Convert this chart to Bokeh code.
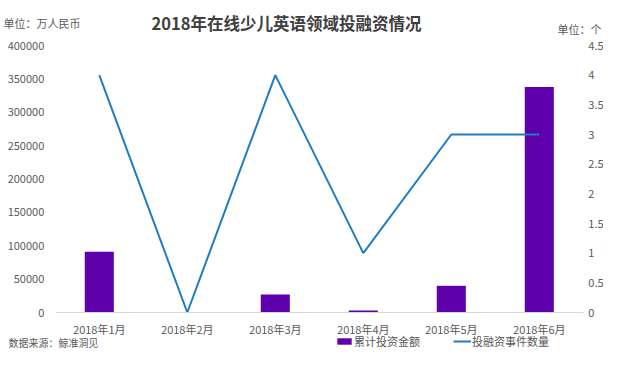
from bokeh.plotting import figure
from bokeh.models import (Range1d, LinearAxis, Label, Legend, LegendItem, Grid,
                          FixedTicker, NumeralTickFormatter)
from bokeh.embed import file_html
from bokeh.resources import INLINE

# ---- data ----
months = ["2018年1月", "2018年2月", "2018年3月", "2018年4月", "2018年5月", "2018年6月"]
amount = [91000, 0, 27000, 3000, 40000, 338000]      # 累计投资金额 (万人民币)
events = [4, 0, 4, 1, 3, 3]                          # 投融资事件数量 (个)
left_ticks = [0, 50000, 100000, 150000, 200000, 250000, 300000, 350000, 400000]
right_ticks = [0, 0.5, 1, 1.5, 2, 2.5, 3, 3.5, 4, 4.5]

FONT = "Noto Sans CJK SC"
TXT = "#595959"

# ---- layout (pixels) ----
W, H = 603, 351
cat_w, cat0_x = 88.0, 98.8          # category width and centre of first category
y0_px, ytop_px = 312.0, 45.0        # page y of value 0 and of the top tick
lmax, rmax = left_ticks[-1], right_ticks[-1]
lpp = lmax / (y0_px - ytop_px)
rpp = rmax / (y0_px - ytop_px)

xs = list(range(len(months)))

p = figure(width=W, height=H, output_backend="svg", toolbar_location=None,
           x_range=Range1d(-cat0_x / cat_w, (W - cat0_x) / cat_w),
           y_range=Range1d(-(H - y0_px) * lpp, y0_px * lpp),
           x_axis_location=None, y_axis_location=None,
           min_border=0, min_border_left=0, min_border_right=0,
           min_border_top=0, min_border_bottom=0)
p.outline_line_color = None
p.extra_y_ranges = {"cnt": Range1d(-(H - y0_px) * rpp, y0_px * rpp)}
for r in list(p.center):
    if isinstance(r, Grid):
        r.visible = False
p.grid.visible = False

bars = p.vbar(x=xs, top=amount, width=0.33, fill_color="#5E00AC", line_color=None)
line = p.line(x=xs, y=events, y_range_name="cnt", line_color="#1E7DC2", line_width=2)

def style(ax):
    ax.major_label_text_font = FONT
    ax.major_label_text_font_size = "11px"
    ax.major_label_text_color = TXT
    ax.major_tick_line_color = None
    ax.minor_tick_line_color = None
    ax.major_tick_out = 0
    ax.major_tick_in = 0

half = len(months) - 0.5
xa = LinearAxis(fixed_location=0, ticker=FixedTicker(ticks=xs),
                major_label_overrides={i: m for i, m in zip(xs, months)},
                bounds=(-0.5, half))
style(xa)
xa.axis_line_color = "#D9D9D9"
xa.major_label_standoff = 8
p.add_layout(xa, "below")

ya = LinearAxis(fixed_location=-0.5, ticker=FixedTicker(ticks=left_ticks),
                formatter=NumeralTickFormatter(format="0"), bounds=(0, lmax))
style(ya)
ya.axis_line_color = None
ya.major_label_standoff = 11
p.add_layout(ya, "left")

ra = LinearAxis(y_range_name="cnt", fixed_location=half,
                ticker=FixedTicker(ticks=right_ticks),
                formatter=NumeralTickFormatter(format="0.[0]"), bounds=(0, rmax))
style(ra)
ra.axis_line_color = None
ra.major_label_standoff = 5
p.add_layout(ra, "right")

# ---- texts (screen units, origin bottom-left of the canvas-sized frame) ----
p.add_layout(Label(x=286, y=H - 22.5, x_units="screen", y_units="screen",
                   text="2018年在线少儿英语领域投融资情况", text_align="center",
                   text_baseline="middle", text_font=FONT, text_font_size="16.5px",
                   text_font_style="bold", text_color="#404040"))
p.add_layout(Label(x=3, y=H - 22.5, x_units="screen", y_units="screen",
                   text="单位：万人民币", text_align="left", text_baseline="middle",
                   text_font=FONT, text_font_size="11px", text_color=TXT))
p.add_layout(Label(x=601, y=H - 28, x_units="screen", y_units="screen",
                   text="单位：个", text_align="right", text_baseline="middle",
                   text_font=FONT, text_font_size="11px", text_color=TXT))
p.add_layout(Label(x=8, y=H - 342, x_units="screen", y_units="screen",
                   text="数据来源：鲸准洞见", text_align="left", text_baseline="middle",
                   text_font=FONT, text_font_size="10px", text_color=TXT))

legend = Legend(items=[LegendItem(label="累计投资金额", renderers=[bars]),
                       LegendItem(label="投融资事件数量", renderers=[line])],
                location=(335, H - 349), orientation="horizontal",
                border_line_color=None, background_fill_alpha=0,
                label_text_font=FONT, label_text_font_size="11px", label_text_color=TXT,
                glyph_width=18, glyph_height=8, label_height=14, label_standoff=1,
                spacing=33, padding=0, margin=0)
p.add_layout(legend, "center")

open("out.html", "w").write(file_html(p, INLINE))
